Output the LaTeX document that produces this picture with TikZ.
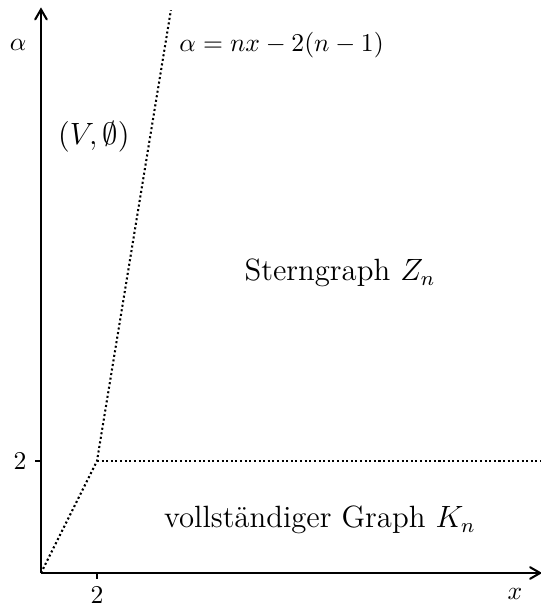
\documentclass[tikz,border=0pt]{standalone}
\usetikzlibrary{arrows}

\begin{document}
\begin{tikzpicture}[x=0.3838cm,y=0.7677cm,>=angle 60,
  axis/.style={line width=0.8pt},
  bound/.style={line width=0.8pt,densely dotted},
  region/.style={font=\large}]
\useasboundingbox (-1.464,-0.607) rectangle (17.857,10.232);
  %axes
  \coordinate (O) at (0,0);
  \coordinate (xend) at (17.9,0);
  \coordinate (yend) at (0,10.1);
  \draw[axis,->] (O) -- (xend);
  \draw[axis,->] (O) -- (yend);
  \node (xl) at (16.93,-0.38) {$x$};
  \node (al) at (-0.82,9.43) {$\alpha$};
  % ticks
  \coordinate (xt) at (2,0);
  \coordinate (yt) at (0,2);
  \draw[axis] (xt) -- ++(0,-0.1);
  \draw[axis] (yt) -- ++(-0.22,0);
  \node (xtl) at (2,-0.4) {$2$};
  \node (ytl) at (-0.75,2) {$2$};
  %boundaries
  \coordinate (K) at (2,2);
  \coordinate (top) at (4.64,10.05);
  \coordinate (right) at (17.857,2);
  \draw[bound] (O) -- (K) -- (top);
  \draw[bound] (K) -- (right);
  %labels
  \node[anchor=west] (eq) at (4.62,9.43) {$\alpha = nx - 2(n-1)$};
  \node[region] (empty) at (1.89,7.79) {$(V,\emptyset)$};
  \node[region] (star) at (10.68,5.36) {Sterngraph $Z_n$};
  \node[region] (full) at (9.96,0.95) {vollständiger Graph $K_n$};
\end{tikzpicture}
\end{document}
